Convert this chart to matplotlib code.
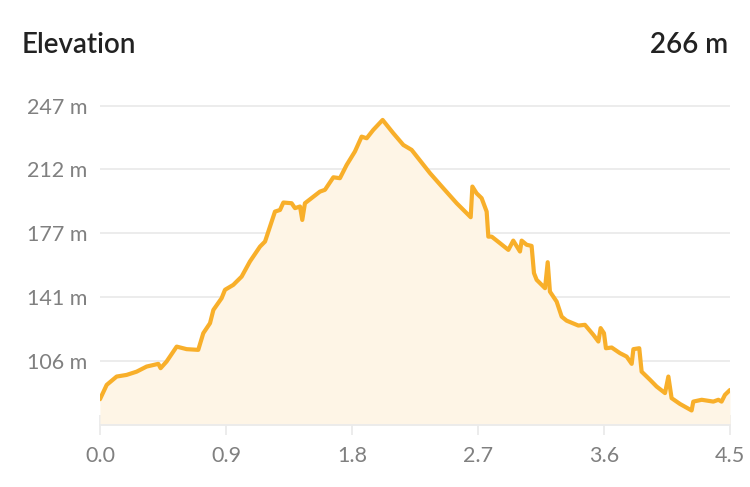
#!/usr/bin/env python

import matplotlib
matplotlib.use('Agg')
from matplotlib import pyplot as plt

# Data (distance in km, elevation in m)
distance = [0.0, 0.048, 0.119, 0.19, 0.262, 0.333, 0.417, 0.433, 0.476, 0.548,
            0.619, 0.702, 0.738, 0.786, 0.81, 0.869, 0.893, 0.952, 1.012, 1.071,
            1.143, 1.179, 1.25, 1.286, 1.31, 1.369, 1.393, 1.429, 1.445, 1.464,
            1.571, 1.607, 1.667, 1.714, 1.762, 1.821, 1.869, 1.905, 1.952, 2.019,
            2.095, 2.167, 2.226, 2.357, 2.452, 2.548, 2.648, 2.66, 2.69, 2.726,
            2.762, 2.774, 2.798, 2.857, 2.917, 2.952, 3.0, 3.012, 3.048, 3.083,
            3.1, 3.119, 3.179, 3.198, 3.214, 3.262, 3.298, 3.333, 3.417, 3.464,
            3.524, 3.56, 3.576, 3.6, 3.614, 3.655, 3.714, 3.762, 3.798, 3.81,
            3.852, 3.869, 3.929, 3.976, 4.036, 4.06, 4.083, 4.143, 4.226, 4.238,
            4.298, 4.381, 4.417, 4.44, 4.464, 4.5]
elevation = [85.2, 93.1, 97.7, 98.6, 100.4, 103.2, 104.7, 102.3, 106.0, 114.2,
             112.8, 112.4, 121.6, 127.1, 134.4, 140.9, 145.5, 148.2, 152.8, 161.1,
             169.3, 172.1, 188.6, 189.5, 193.6, 193.2, 190.5, 191.4, 184.0, 193.2,
             199.6, 200.6, 207.5, 207.0, 214.3, 221.7, 229.9, 229.0, 233.6, 239.1,
             231.8, 225.3, 222.6, 209.8, 201.5, 193.2, 185.5, 202.4, 198.7, 196.0,
             188.6, 174.8, 174.8, 171.2, 167.5, 172.6, 166.6, 172.6, 170.3, 169.7,
             154.7, 151.0, 146.4, 160.7, 144.5, 139.0, 130.7, 128.5, 125.8, 126.2,
             120.7, 117.0, 124.4, 121.6, 113.3, 113.7, 110.6, 108.7, 104.7, 112.8,
             113.3, 100.4, 95.9, 92.2, 88.6, 97.7, 85.8, 82.6, 79.0, 83.9,
             84.9, 83.9, 84.9, 83.9, 87.6, 90.3]

y_ticks = [71.0, 106.2, 141.4, 176.6, 211.8, 247.0]
y_labels = ['', '106 m', '141 m', '177 m', '212 m', '247 m']
x_ticks = [0.0, 0.9, 1.8, 2.7, 3.6, 4.5]
x_labels = ['0.0', '0.9', '1.8', '2.7', '3.6', '4.5']

title = 'Elevation'
total = '266 m'

# Plot config
line_color = '#F8AF2A'
fill_color = '#FEF5E6'
grid_color = '#EBEBEB'
label_color = '#808080'
plt.rcParams['font.family'] = ['Lato', 'DejaVu Sans']

fig = plt.figure(figsize=(7.5, 4.87), dpi=100)
ax = fig.add_axes([0.1333, 0.1273, 0.84, 0.6756])

ax.fill_between(distance, elevation, y_ticks[0], color=fill_color, lw=0, zorder=1)
ax.plot(distance, elevation, color=line_color, lw=3.0, solid_joinstyle='round',
        solid_capstyle='round', zorder=3)

ax.set_xlim(0, 4.5)
ax.set_ylim(71.0, 252.3)

ax.set_yticks(y_ticks)
ax.set_yticklabels(y_labels)
ax.set_xticks(x_ticks)
ax.set_xticklabels(x_labels)
ax.grid(axis='y', color=grid_color, lw=1.3, zorder=0)
ax.set_axisbelow(True)

for side in ['top', 'right', 'left']:
    ax.spines[side].set_visible(False)
ax.spines['bottom'].set_color(grid_color)
ax.spines['bottom'].set_linewidth(1.3)

ax.tick_params(axis='y', length=0, pad=9, labelsize=15.5, labelcolor=label_color)
ax.tick_params(axis='x', direction='inout', length=14, width=1.3, color=grid_color,
               pad=8, labelsize=15.5, labelcolor=label_color)

fig.text(0.029, 0.908, title, fontsize=20, fontweight='semibold', color='#222222',
         va='center', ha='left')
fig.text(0.971, 0.908, total, fontsize=20, fontweight='semibold', color='#222222',
         va='center', ha='right')

fig.savefig('out.png', dpi=100)
